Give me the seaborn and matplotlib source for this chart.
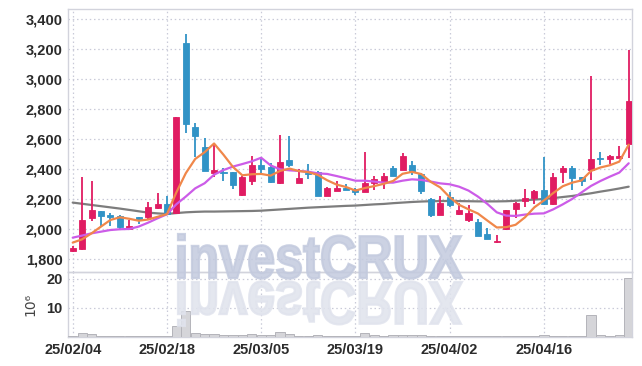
import numpy as np
import pandas as pd
import matplotlib
matplotlib.use("Agg")
import matplotlib.pyplot as plt
import seaborn as sns
from matplotlib.textpath import TextPath
from matplotlib.patches import PathPatch
from matplotlib.font_manager import FontProperties
from matplotlib.transforms import Affine2D, IdentityTransform

# ---------------- data ----------------
dates = [d for d in pd.bdate_range("2025-02-04", "2025-04-29") if d != pd.Timestamp("2025-03-03")]

opens = [1855, 1869, 2075, 2120, 2095, 2087, 1998, 2080, 2082, 2142,
         2167, 2109, 3242, 2682, 2549, 2371, 2382, 2380, 2227, 2322,
         2427, 2413, 2304, 2460, 2309, 2375, 2382, 2222, 2255, 2273,
         2269, 2249, 2305, 2311, 2407, 2393, 2427, 2367, 2200, 2093,
         2216, 2100, 2060, 2049, 1964, 1913, 1998, 2131, 2189, 2204,
         2260, 2164, 2382, 2409, 2345, 2393, 2469, 2464, 2476, 2564]
highs = [1887, 2345, 2320, 2122, 2105, 2090, 2060, 2082, 2182, 2238,
         2222, 2747, 3298, 2705, 2605, 2567, 2404, 2382, 2350, 2487,
         2482, 2442, 2627, 2620, 2398, 2435, 2385, 2280, 2320, 2300,
         2272, 2516, 2353, 2371, 2420, 2504, 2456, 2370, 2205, 2220,
         2249, 2171, 2160, 2064, 2004, 1960, 2127, 2180, 2264, 2260,
         2482, 2371, 2420, 2420, 2345, 3022, 2516, 2493, 2556, 3193]
lows = [1845, 1860, 2055, 2020, 2020, 1995, 1993, 2033, 2060, 2131,
        2095, 2100, 2642, 2478, 2389, 2349, 2322, 2264, 2220, 2291,
        2371, 2304, 2300, 2416, 2305, 2330, 2222, 2218, 2250, 2258,
        2227, 2245, 2260, 2267, 2350, 2390, 2360, 2233, 2082, 2090,
        2144, 2095, 2049, 1950, 1930, 1904, 1995, 2076, 2149, 2167,
        2160, 2160, 2309, 2260, 2287, 2327, 2427, 2433, 2470, 2476]
closes = [1875, 2060, 2127, 2087, 2080, 2010, 2020, 2060, 2147, 2167,
          2100, 2747, 2700, 2622, 2389, 2393, 2372, 2293, 2345, 2424,
          2402, 2316, 2447, 2424, 2342, 2368, 2222, 2271, 2276, 2262,
          2249, 2309, 2333, 2353, 2356, 2487, 2378, 2256, 2093, 2171,
          2160, 2127, 2105, 1953, 1933, 1918, 2127, 2176, 2207, 2253,
          2167, 2349, 2409, 2342, 2322, 2464, 2465, 2487, 2487, 2853]
volumes = [0.1, 1.3, 0.7, 0.1, 0.1, 0.1, 0.1, 0.1, 0.1, 0.1,
           0.1, 3.5, 8.7, 1.3, 0.7, 0.7, 0.35, 0.35, 0.35, 0.7,
           0.35, 0.35, 1.4, 0.7, 0.1, 0.1, 0.35, 0.1, 0.1, 0.1,
           0.1, 1.3, 0.35, 0.1, 0.35, 0.35, 0.35, 0.35, 0.1, 0.1,
           0.1, 0.1, 0.1, 0.1, 0.1, 0.1, 0.1, 0.1, 0.1, 0.1,
           0.6, 0.25, 0.1, 0.1, 0.1, 7.6, 0.35, 0.1, 0.35, 20.3]
ma5 = [1909, 1931, 1971, 2016, 2060, 2078, 2068, 2055, 2063, 2081,
       2099, 2244, 2372, 2467, 2512, 2570, 2495, 2414, 2358, 2365,
       2367, 2356, 2387, 2403, 2386, 2379, 2361, 2325, 2296, 2280,
       2256, 2273, 2286, 2301, 2320, 2368, 2381, 2366, 2314, 2277,
       2212, 2161, 2131, 2103, 2056, 2010, 2012, 2028, 2078, 2145,
       2190, 2240, 2285, 2309, 2324, 2387, 2410, 2425, 2449, 2562]
ma20 = [1942, 1956, 1971, 1982, 1993, 1998, 2000, 2016, 2042, 2071,
        2098, 2165, 2216, 2271, 2305, 2362, 2393, 2416, 2433, 2451,
        2475, 2424, 2398, 2391, 2387, 2382, 2371, 2367, 2353, 2338,
        2322, 2322, 2316, 2309, 2309, 2322, 2331, 2327, 2316, 2304,
        2298, 2282, 2256, 2216, 2167, 2111, 2089, 2087, 2096, 2102,
        2104, 2131, 2164, 2200, 2244, 2287, 2320, 2349, 2376, 2438]
ma_long = [2176, 2168, 2160, 2152, 2144, 2136, 2127, 2118, 2109, 2104,
           2100, 2106, 2111, 2114, 2116, 2116, 2117, 2118, 2119, 2120,
           2122, 2126, 2130, 2134, 2138, 2142, 2145, 2148, 2151, 2154,
           2156, 2160, 2164, 2167, 2172, 2176, 2180, 2183, 2185, 2186,
           2187, 2186, 2185, 2184, 2184, 2184, 2185, 2188, 2192, 2196,
           2200, 2206, 2213, 2220, 2229, 2238, 2249, 2259, 2270, 2282]
price_ticks = [1800, 2000, 2200, 2400, 2600, 2800, 3000, 3200, 3400]
vol_ticks = [10, 20]
date_tick_idx = [0, 10, 20, 30, 40, 50]

# ---------------- style ----------------
RED = "#e01c62"
BLUE = "#3193c6"
ORANGE = "#f0874a"
PURPLE = "#cc5ce8"
GRAY = "#7d7d7d"
GRID = "#c9cad8"
FRAME = "#d2d3dc"
TXT = "#2b2b2b"

sns.set_theme(style="white")
plt.rcParams["font.family"] = ["Liberation Sans", "DejaVu Sans"]

df = pd.DataFrame({"i": np.arange(len(dates)), "open": opens, "high": highs,
                   "low": lows, "close": closes, "vol": volumes,
                   "ma5": ma5, "ma20": ma20, "malong": ma_long})

W, H = 642, 366
fig = plt.figure(figsize=(W / 100, H / 100), dpi=100)
L, R = 68 / W, 632 / W
ax = fig.add_axes([L, 1 - 272 / H, R - L, (272 - 9.3) / H])
axv = fig.add_axes([L, 1 - 336.5 / H, R - L, (336.5 - 272) / H], sharex=ax)

# watermark (behind everything)
fp = FontProperties(family=["Liberation Sans", "DejaVu Sans"], weight="bold")
tp = TextPath((0, 0), "investCRUX", size=1, prop=fp)
ext = tp.get_extents()
kx = 284 / ext.width
ky = 44 / ext.y1
x0 = 178 - ext.x0 * kx
base = H - 278
fig.add_artist(PathPatch(tp, transform=Affine2D().scale(kx, ky).translate(x0, base) + IdentityTransform(),
                         facecolor="#c3cade", edgecolor="#c3cade", linewidth=1.6, alpha=0.85, zorder=0.5))
fig.add_artist(PathPatch(tp, transform=Affine2D().scale(kx, -ky).translate(x0, base - 4) + IdentityTransform(),
                         facecolor="#e0e3ed", edgecolor="#e0e3ed", linewidth=1.6, alpha=0.85, zorder=0.5))
ax.patch.set_alpha(0)
axv.patch.set_alpha(0)

# candles
x = df["i"].to_numpy()
up = df["close"] >= df["open"]
cols = np.where(up, RED, BLUE)
ax.vlines(x, df["low"], df["high"], colors=cols, linewidth=1.3, zorder=3)
body_lo = np.minimum(df["open"], df["close"])
body_h = np.maximum(np.abs(df["close"] - df["open"]), 8)
ax.bar(x, body_h, bottom=body_lo, width=0.64, color=cols, edgecolor=cols, linewidth=0.6, zorder=4)

# moving averages
sns.lineplot(data=df, x="i", y="malong", color=GRAY, linewidth=1.6, ax=ax, zorder=2)
sns.lineplot(data=df, x="i", y="ma20", color=PURPLE, linewidth=1.6, ax=ax, zorder=5)
sns.lineplot(data=df, x="i", y="ma5", color=ORANGE, linewidth=1.6, ax=ax, zorder=6)

ax.set_xlim(-0.5, 59.35)
ax.set_ylim(1713, 3465)
ax.set_yticks(price_ticks)
ax.set_yticklabels([f"{v:,}" for v in price_ticks])
ax.set_xlabel("")
ax.set_ylabel("")

# volume
axv.bar(x, df["vol"], width=0.98, color="#d5d5d9", edgecolor="#b4b4ba", linewidth=0.7, zorder=3)
axv.set_ylim(0, 22.3)
axv.set_yticks(vol_ticks)
axv.set_yticklabels([str(v) for v in vol_ticks])
axv.set_ylabel("10⁶", fontsize=10, color="#444444", family=["DejaVu Sans"], labelpad=6)
axv.set_xticks(date_tick_idx)
axv.set_xticklabels([dates[i].strftime("%y/%m/%d") for i in date_tick_idx])
axv.set_xlabel("")
plt.setp(ax.get_xticklabels(), visible=False)

for a in (ax, axv):
    a.grid(True, which="major", axis="both", color=GRID, linestyle=(0, (1.2, 2.2)), linewidth=0.9)
    a.set_axisbelow(True)
    for s in a.spines.values():
        s.set_color(FRAME)
        s.set_linewidth(1.0)
    a.tick_params(axis="both", length=0, colors=TXT, labelsize=10.5, pad=4)
    for lab in a.get_xticklabels() + a.get_yticklabels():
        lab.set_fontweight("bold")
ax.set_xticks(date_tick_idx)
axv.tick_params(axis="x", pad=5)

fig.savefig("out.png", dpi=100)
